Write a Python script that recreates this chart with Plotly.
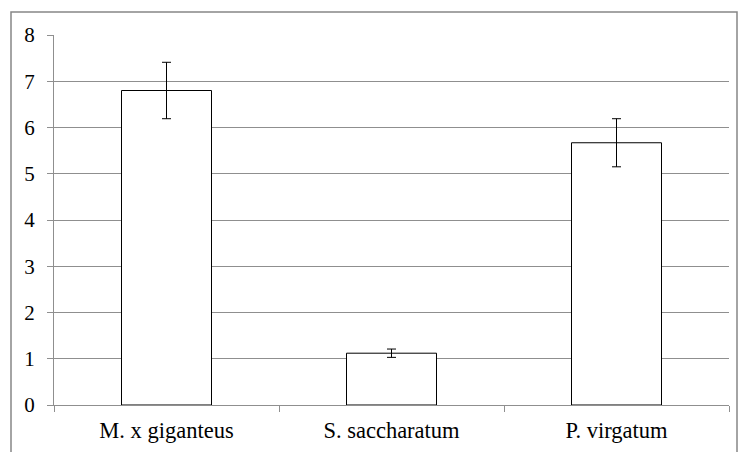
import plotly.graph_objects as go

categories = ["M. x giganteus", "S. saccharatum", "P. virgatum"]
values = [6.80, 1.12, 5.67]
errors = [0.61, 0.09, 0.52]
y_ticks = [0, 1, 2, 3, 4, 5, 6, 7, 8]

FONT = "Liberation Serif, Times New Roman, serif"

fig = go.Figure()
fig.add_trace(go.Bar(
    x=categories, y=values, width=0.4,
    marker=dict(color="white", line=dict(color="#000000", width=1)),
    error_y=dict(type="data", array=errors, visible=True, color="#000000", thickness=1, width=4.5),
))

grid = "#8f8f8f"
fig.update_layout(
    width=742, height=452,
    margin=dict(l=54, r=13, t=35, b=47),
    paper_bgcolor="white", plot_bgcolor="white",
    font=dict(family=FONT, size=21, color="#000000"),
    showlegend=False,
    xaxis=dict(
        range=[-0.5, 2.5], showline=True, linecolor=grid, linewidth=1,
        ticks="outside", tickson="boundaries", ticklen=6, tickcolor=grid,
        showgrid=False, tickfont=dict(family=FONT, size=22.5, color="#000000"),
        ticklabelstandoff=5, automargin=False,
    ),
    yaxis=dict(
        range=[0, 8], tickvals=y_ticks, showline=True, linecolor=grid, linewidth=1,
        ticks="outside", ticklen=6, tickcolor=grid, showgrid=True, gridcolor=grid,
        gridwidth=1, zeroline=False, tickfont=dict(family=FONT, size=21, color="#000000"),
        ticklabelstandoff=8, automargin=False,
    ),
    shapes=[dict(
        type="rect", xref="paper", yref="paper",
        x0=(11 - 54) / 675, x1=(737 - 54) / 675,
        y0=(405 - 470) / 370, y1=(405 - 12) / 370,
        line=dict(color="#868686", width=1.5), fillcolor="rgba(0,0,0,0)", layer="below",
    )],
)

fig.write_html("out.html", config={"displayModeBar": False},
               post_script="document.body.style.margin='0';document.body.style.overflow='hidden';")
